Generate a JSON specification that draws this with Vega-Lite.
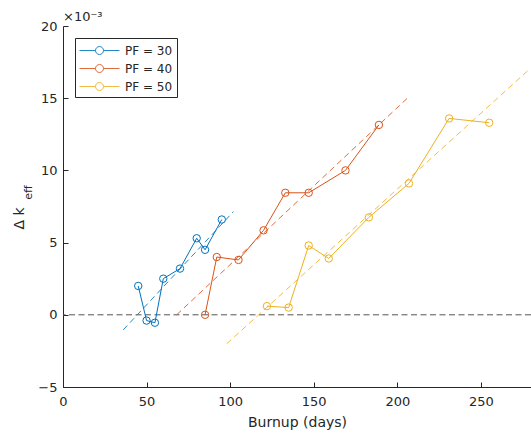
{
  "$schema": "https://vega.github.io/schema/vega-lite/v6.json",
  "width": 468,
  "height": 361,
  "autosize": {"type": "none"},
  "padding": {"left": 63, "top": 26, "right": 0, "bottom": 50},
  "background": "white",
  "title": {
    "text": "×10⁻³",
    "anchor": "start",
    "frame": "group",
    "fontSize": 13,
    "fontWeight": "normal",
    "font": "DejaVu Sans",
    "color": "#262626",
    "baseline": "alphabetic",
    "offset": 5,
    "dy": 19
  },
  "config": {
    "view": {"stroke": null},
    "font": "DejaVu Sans",
    "axis": {
      "grid": false,
      "domainColor": "#262626",
      "domainWidth": 1,
      "tickColor": "#262626",
      "tickWidth": 1,
      "tickSize": -5,
      "labelFont": "DejaVu Sans",
      "labelFontSize": 13,
      "labelColor": "#262626",
      "labelFlush": false,
      "titleFont": "DejaVu Sans",
      "titleFontSize": 14,
      "titleFontWeight": "normal",
      "titleColor": "#262626"
    },
    "legend": {
      "orient": "none",
      "legendX": 12,
      "legendY": 12,
      "strokeColor": "#262626",
      "fillColor": "white",
      "padding": 4,
      "labelFont": "DejaVu Sans",
      "labelFontSize": 12,
      "labelColor": "#262626",
      "labelOffset": 17,
      "symbolOffset": 12,
      "rowPadding": 3,
      "symbolType": "M-2.5,0L-0.5,0M0.5,0L2.5,0M0.5,0A0.5,0.5,0,1,1,-0.5,0A0.5,0.5,0,1,1,0.5,0",
      "symbolSize": 256,
      "symbolStrokeWidth": 1,
      "symbolFillColor": "transparent"
    }
  },
  "datasets": {
    "measured": [
      {"series": "PF = 30", "burnup": 45, "dk": 2.0},
      {"series": "PF = 30", "burnup": 50, "dk": -0.4},
      {"series": "PF = 30", "burnup": 55, "dk": -0.55},
      {"series": "PF = 30", "burnup": 60, "dk": 2.5},
      {"series": "PF = 30", "burnup": 70, "dk": 3.2},
      {"series": "PF = 30", "burnup": 80, "dk": 5.3},
      {"series": "PF = 30", "burnup": 85, "dk": 4.5},
      {"series": "PF = 30", "burnup": 95, "dk": 6.6},
      {"series": "PF = 40", "burnup": 85, "dk": 0.0},
      {"series": "PF = 40", "burnup": 92, "dk": 4.0},
      {"series": "PF = 40", "burnup": 105, "dk": 3.8},
      {"series": "PF = 40", "burnup": 120, "dk": 5.85},
      {"series": "PF = 40", "burnup": 133, "dk": 8.45},
      {"series": "PF = 40", "burnup": 147, "dk": 8.45},
      {"series": "PF = 40", "burnup": 169, "dk": 10.0},
      {"series": "PF = 40", "burnup": 189, "dk": 13.15},
      {"series": "PF = 50", "burnup": 122, "dk": 0.6},
      {"series": "PF = 50", "burnup": 135, "dk": 0.5},
      {"series": "PF = 50", "burnup": 147, "dk": 4.8},
      {"series": "PF = 50", "burnup": 159, "dk": 3.9},
      {"series": "PF = 50", "burnup": 183, "dk": 6.75},
      {"series": "PF = 50", "burnup": 207, "dk": 9.1},
      {"series": "PF = 50", "burnup": 231, "dk": 13.6},
      {"series": "PF = 50", "burnup": 255, "dk": 13.3}
    ],
    "fit": [
      {"series": "PF = 30", "burnup": 36, "dk": -1.05},
      {"series": "PF = 30", "burnup": 102, "dk": 7.15},
      {"series": "PF = 40", "burnup": 68, "dk": 0.0},
      {"series": "PF = 40", "burnup": 206, "dk": 15.0},
      {"series": "PF = 50", "burnup": 98, "dk": -2.0},
      {"series": "PF = 50", "burnup": 279, "dk": 17.0}
    ],
    "reference": [
      {"dk": 0}
    ]
  },
  "resolve": {"axis": {"y": "independent"}},
  "layer": [
    {
      "data": {"name": "reference"},
      "mark": {"type": "rule", "color": "#555555", "strokeWidth": 1, "strokeDash": [6, 3.5]},
      "encoding": {
        "y": {"field": "dk", "type": "quantitative", "scale": {"domain": [-5, 20], "nice": false}, "axis": null}
      }
    },
    {
      "data": {"name": "fit"},
      "mark": {"type": "line", "strokeWidth": 1, "strokeDash": [6, 4], "opacity": 0.85},
      "encoding": {
        "x": {"field": "burnup", "type": "quantitative", "scale": {"domain": [0, 280], "nice": false}, "axis": {"title": "Burnup (days)", "values": [0, 50, 100, 150, 200, 250], "labelPadding": 13, "titlePadding": 7}},
        "y": {"field": "dk", "type": "quantitative", "scale": {"domain": [-5, 20], "nice": false},
          "axis": {"title": "eff", "orient": "left", "labels": false, "ticks": false, "domain": false, "titleFontSize": 11, "titleX": -30, "titleY": 166, "titleAngle": -90, "titleAlign": "center", "titleBaseline": "bottom"}},
        "color": {"field": "series", "type": "nominal", "scale": {"domain": ["PF = 30", "PF = 40", "PF = 50"], "range": ["#0072BD", "#D95319", "#EDB120"]}, "legend": {"title": null}}
      }
    },
    {
      "data": {"name": "measured"},
      "mark": {"type": "line", "strokeWidth": 1, "point": {"filled": false, "size": 55, "strokeWidth": 1}},
      "encoding": {
        "x": {"field": "burnup", "type": "quantitative", "scale": {"domain": [0, 280], "nice": false}, "axis": {"title": "Burnup (days)", "values": [0, 50, 100, 150, 200, 250], "labelPadding": 13, "titlePadding": 7}},
        "y": {"field": "dk", "type": "quantitative", "scale": {"domain": [-5, 20], "nice": false},
          "axis": {"title": "Δ k", "orient": "left", "values": [-5, 0, 5, 10, 15, 20], "labelPadding": 11, "titleX": -37, "titleY": 192, "titleAngle": -90, "titleAlign": "center", "titleBaseline": "bottom"}},
        "color": {"field": "series", "type": "nominal", "scale": {"domain": ["PF = 30", "PF = 40", "PF = 50"], "range": ["#0072BD", "#D95319", "#EDB120"]}, "legend": {"title": null}}
      }
    }
  ]
}
